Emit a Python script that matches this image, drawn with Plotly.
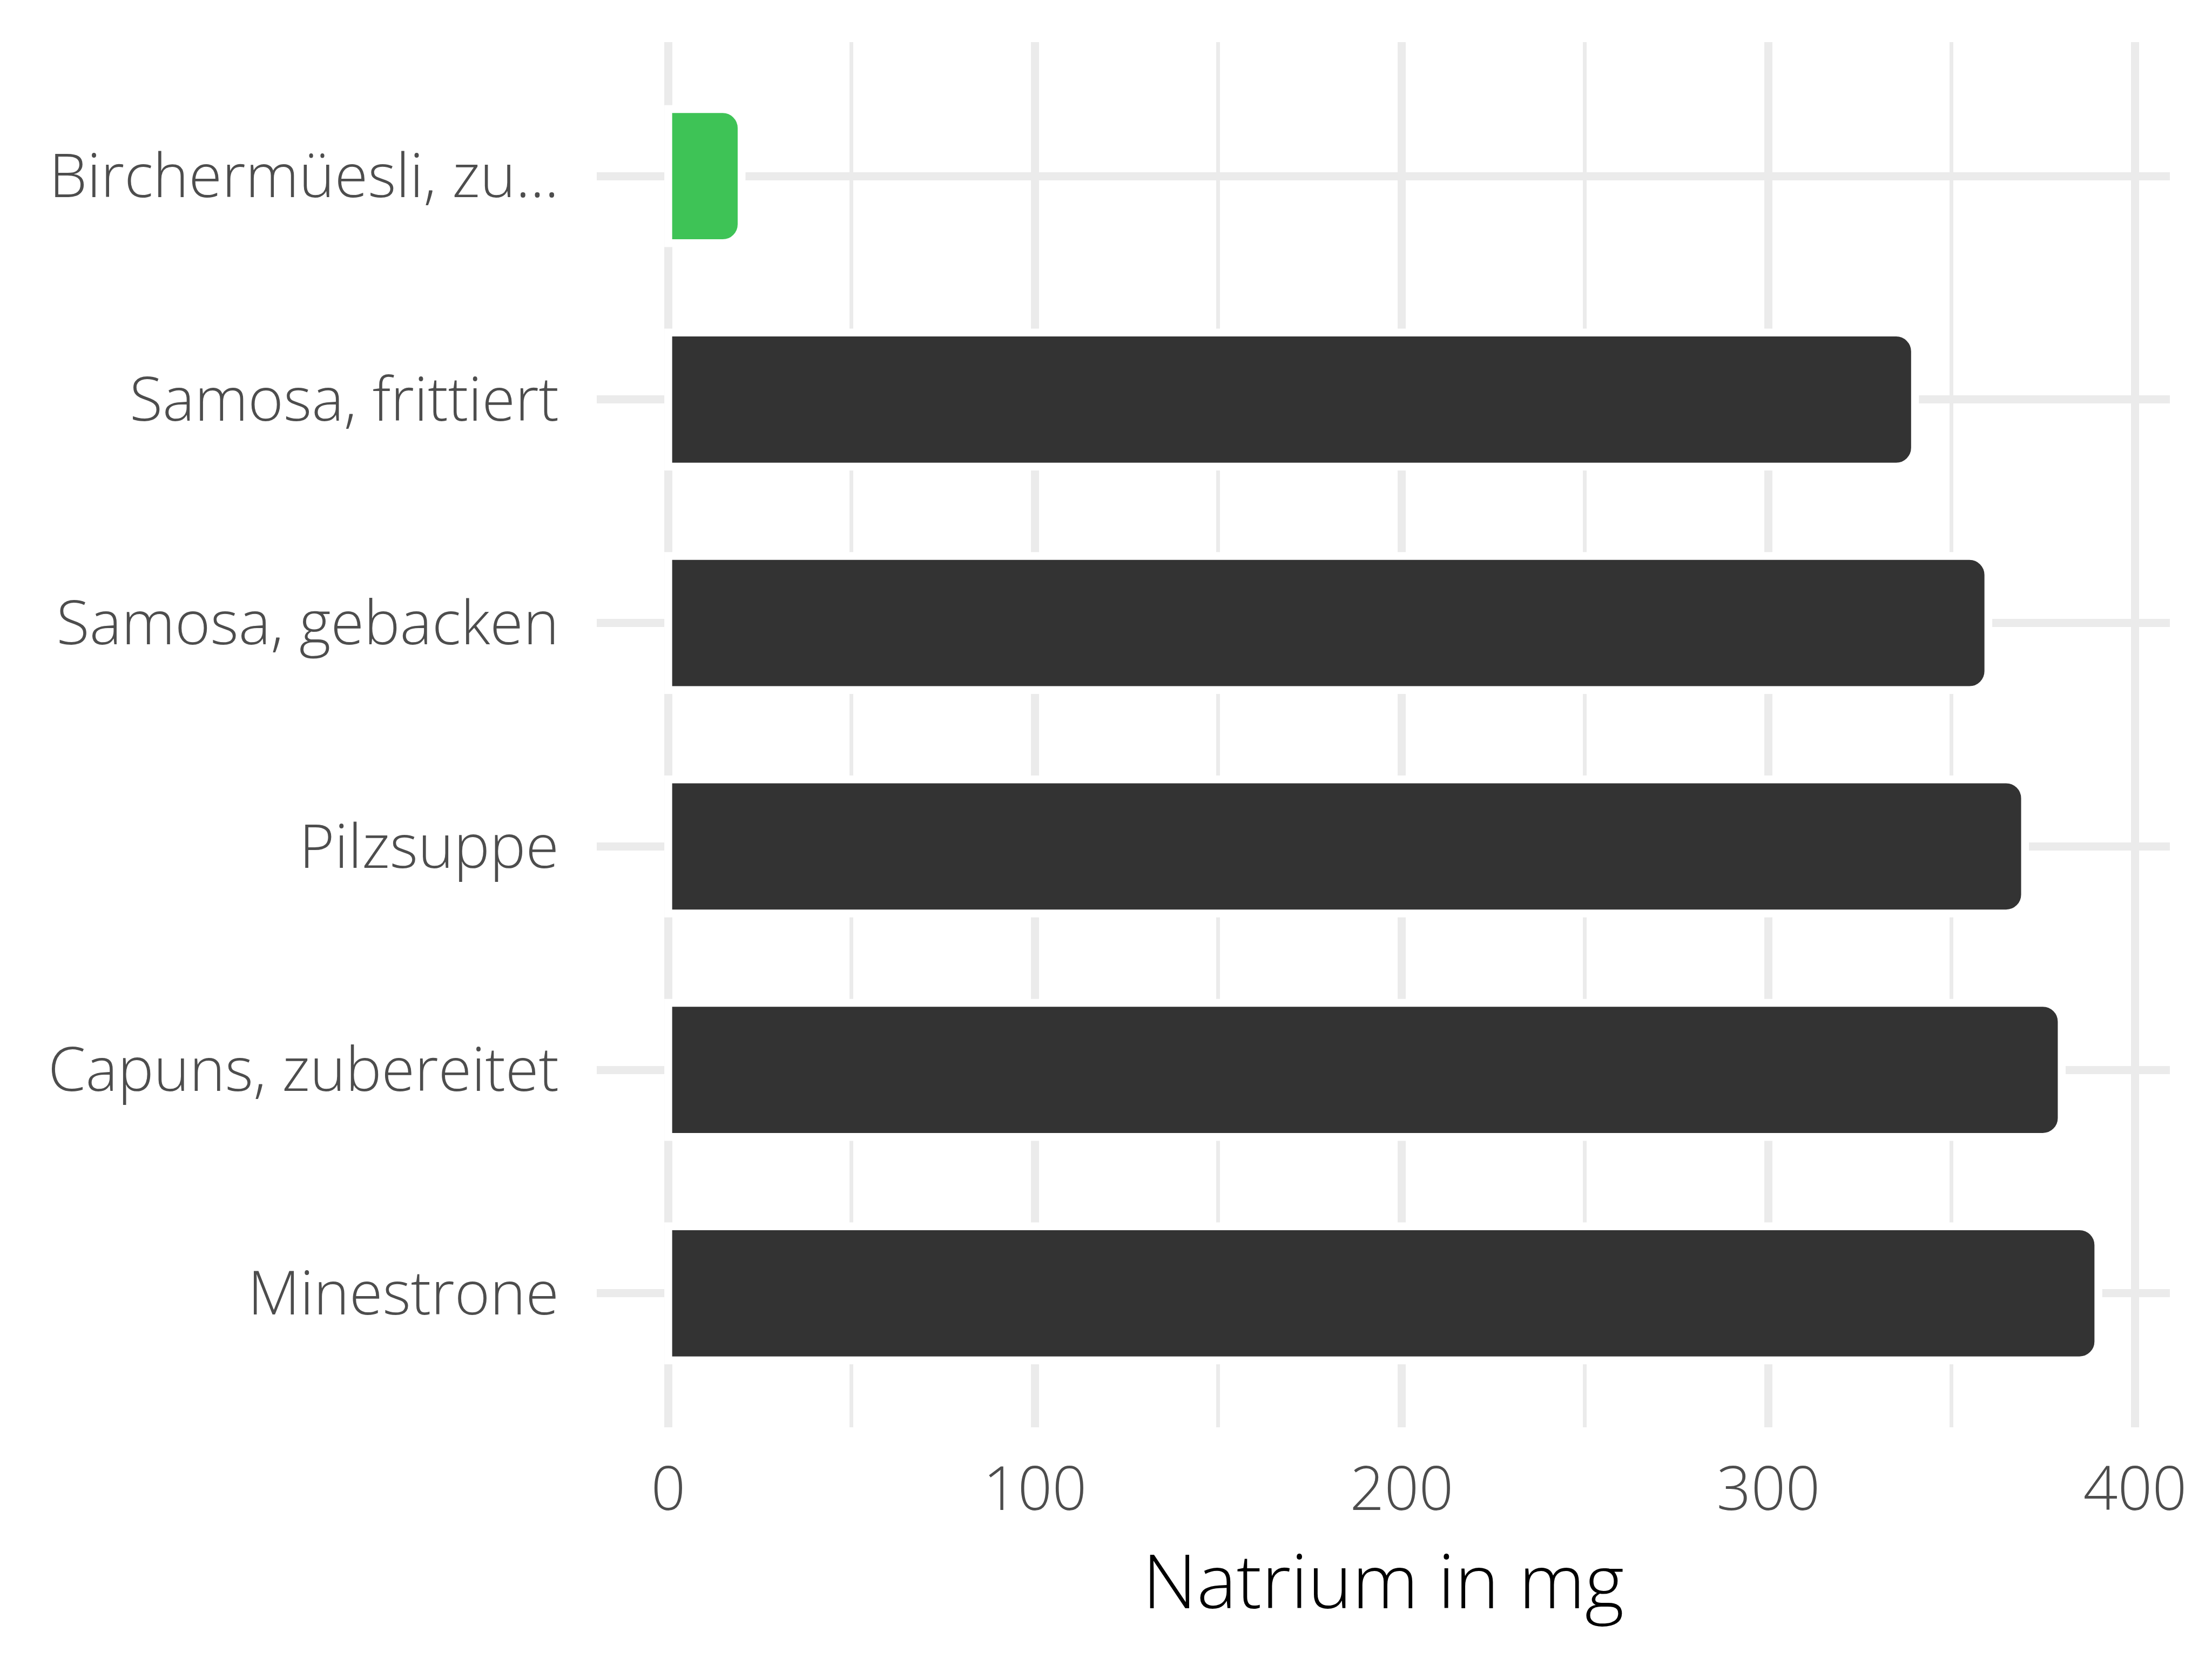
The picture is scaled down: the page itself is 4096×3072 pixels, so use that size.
import plotly.graph_objects as go

categories = ["Birchermüesli, zu...", "Samosa, frittiert", "Samosa, gebacken",
              "Pilzsuppe", "Capuns, zubereitet", "Minestrone"]
natrium_mg = [20, 340, 360, 370, 380, 390]
highlight = "Birchermüesli, zu..."
x_ticks = [0, 100, 200, 300, 400]

GREEN = "#3EC356"
DARK = "#333333"
GRID = "#EBEBEB"
colors = [GREEN if c == highlight else DARK for c in categories]

fig = go.Figure()
fig.add_trace(go.Bar(
    x=natrium_mg, y=categories, orientation="h",
    width=0.6,
    marker=dict(color=colors, line=dict(color="white", width=14.5)),
    hoverinfo="skip",
))

fig.update_layout(
    width=4096, height=3072,
    margin=dict(l=1097, r=86, t=70, b=437, pad=0),
    paper_bgcolor="white", plot_bgcolor="white",
    barcornerradius=35,
    showlegend=False,
    font=dict(family="Open Sans", weight=300, color="#4D4D4D", size=112),
)

fig.update_xaxes(
    range=[-19.5, 409.5],
    tickvals=x_ticks, ticktext=[str(v) for v in x_ticks],
    showgrid=True, gridcolor=GRID, gridwidth=14.5,
    minor=dict(dtick=50, tick0=0, showgrid=True, gridcolor=GRID, gridwidth=7),
    zeroline=False, showline=False, ticks="",
    tickfont=dict(family="Open Sans", weight=300, size=112, color="#4D4D4D"),
    ticklabelstandoff=40,
    title=dict(text="Natrium in mg", standoff=32,
               font=dict(family="Open Sans", weight=300, size=139, color="black")),
)

fig.update_yaxes(
    type="category", categoryorder="array", categoryarray=categories,
    range=[5.6, -0.6],
    showgrid=True, gridcolor=GRID, gridwidth=14.5,
    zeroline=False, showline=False, ticks="",
    tickfont=dict(family="Open Sans", weight=300, size=112, color="#4D4D4D"),
    ticklabelstandoff=69,
)

fig.write_html("out.html", config={"responsive": False})
